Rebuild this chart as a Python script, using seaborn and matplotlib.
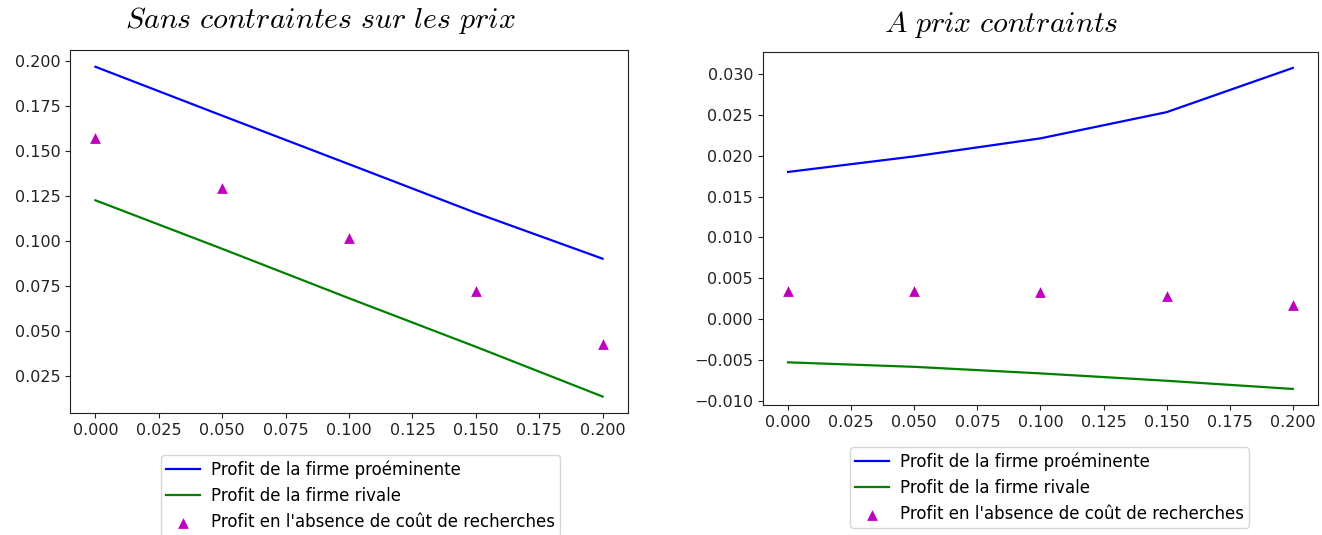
import matplotlib
matplotlib.use("Agg")
import matplotlib.pyplot as plt
import seaborn as sns
import numpy as np

x = [0.0, 0.05, 0.10, 0.15, 0.20]

# Left panel: sans contraintes sur les prix
left_proeminente = [0.1968, 0.1696, 0.1426, 0.1155, 0.0900]
left_rivale = [0.1225, 0.0955, 0.0680, 0.0410, 0.0133]
left_sans_cout = [0.1573, 0.1294, 0.1015, 0.0718, 0.0423]

# Right panel: à prix contraints
right_proeminente = [0.0180, 0.0199, 0.0221, 0.0253, 0.0307]
right_rivale = [-0.00525, -0.0058, -0.0066, -0.0075, -0.0085]
right_sans_cout = [0.0035, 0.0035, 0.0033, 0.0028, 0.0017]

titles = [r"$Sans\ contraintes\ sur\ les\ prix$", r"$A\ prix\ contraints$"]
labels = ["Profit de la firme proéminente",
          "Profit de la firme rivale",
          "Profit en l'absence de coût de recherches"]

plt.rcParams["mathtext.fontset"] = "cm"

fig = plt.figure(figsize=(13.22, 5.35), dpi=100)
ax1 = fig.add_axes([0.053, 0.228, 0.422, 0.678])
ax2 = fig.add_axes([0.577, 0.243, 0.420, 0.660])

panels = [
    (ax1, left_proeminente, left_rivale, left_sans_cout, (0.273, 0.165), 0.448, 16),
    (ax2, right_proeminente, right_rivale, right_sans_cout, (0.794, 0.180), 0.429, 14.5),
]

for i, (ax, p, r, s, anchor, tx, pad) in enumerate(panels):
    sns.lineplot(x=x, y=p, ax=ax, color="b", label=labels[0], linewidth=1.6)
    sns.lineplot(x=x, y=r, ax=ax, color="g", label=labels[1], linewidth=1.6)
    sns.scatterplot(x=x, y=s, ax=ax, color="m", marker="^", s=60,
                    linewidth=0, label=labels[2])
    ax.set_title(titles[i], fontsize=21.5, pad=pad, x=tx)
    ax.xaxis.set_major_locator(matplotlib.ticker.MultipleLocator(0.025))
    ax.tick_params(labelsize=11.5, colors="#222222")
    for sp in ax.spines.values():
        sp.set_color("#222222")
    ax.legend(loc="upper center", bbox_to_anchor=anchor,
              bbox_transform=fig.transFigure, fontsize=12,
              labelspacing=0.5, borderpad=0.3, handletextpad=0.7)

ax1.yaxis.set_major_locator(matplotlib.ticker.MultipleLocator(0.025))
ax2.yaxis.set_major_locator(matplotlib.ticker.MultipleLocator(0.005))

fig.savefig("out.png", dpi=100)
